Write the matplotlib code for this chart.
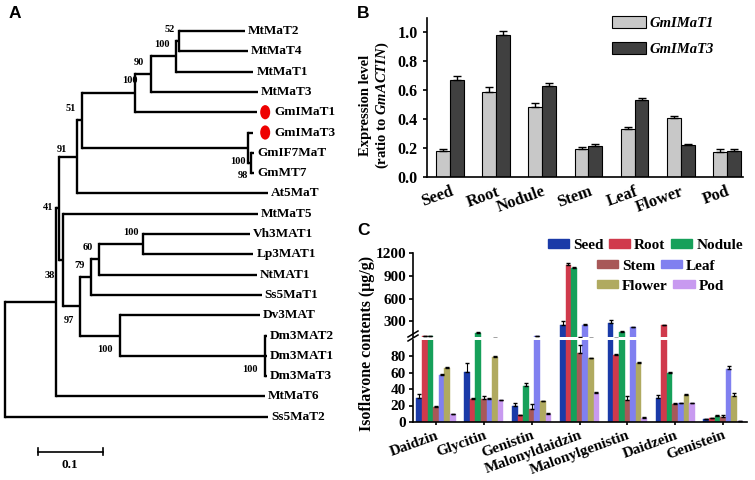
import numpy as np
import matplotlib
matplotlib.use('Agg')
import matplotlib.pyplot as plt
from matplotlib.patches import Patch, Ellipse
from matplotlib.lines import Line2D
from matplotlib.transforms import ScaledTranslation

plt.rcParams['font.family'] = ['Liberation Serif', 'DejaVu Serif']
plt.rcParams['font.weight'] = 'bold'
plt.rcParams['mathtext.fontset'] = 'custom'
plt.rcParams['mathtext.it'] = 'Liberation Serif:bold:italic'
plt.rcParams['mathtext.rm'] = 'Liberation Serif:bold'

# ---------------- data ----------------
# A: tree (branch depth from root, substitutions/site)
leaf_names = ['MtMaT2', 'MtMaT4', 'MtMaT1', 'MtMaT3', 'GmIMaT1', 'GmIMaT3', 'GmIF7MaT',
              'GmMT7', 'At5MaT', 'MtMaT5', 'Vh3MAT1', 'Lp3MAT1', 'NtMAT1', 'Ss5MaT1',
              'Dv3MAT', 'Dm3MAT2', 'Dm3MAT1', 'Dm3MaT3', 'MtMaT6', 'Ss5MaT2']
leaf_depth = [0.369, 0.374, 0.382, 0.389, 0.388, 0.382, 0.383, 0.383, 0.405, 0.389,
              0.377, 0.382, 0.388, 0.395, 0.392, 0.403, 0.403, 0.403, 0.400, 0.405]
marked = ['GmIMaT1', 'GmIMaT3']

node_names = ['N52', 'N100e', 'N90', 'N100d', 'N98', 'Ngm3', 'N51', 'N91', 'N100a',
              'N60', 'N79', 'N100c', 'N100b', 'N97', 'Nm5', 'N41', 'N38', 'root']
node_depth = [0.268, 0.263, 0.224, 0.200, 0.3785, 0.3746, 0.118, 0.111, 0.213,
              0.145, 0.132, 0.400, 0.177, 0.116, 0.089, 0.0831, 0.0777, 0.0]
node_children = [['MtMaT2', 'MtMaT4'], ['N52', 'MtMaT1'], ['N100e', 'MtMaT3'],
                 ['N90', 'GmIMaT1'], ['GmIF7MaT', 'GmMT7'], ['GmIMaT3', 'N98'],
                 ['N100d', 'Ngm3'], ['N51', 'At5MaT'], ['Vh3MAT1', 'Lp3MAT1'],
                 ['N100a', 'NtMAT1'], ['N60', 'Ss5MaT1'], ['Dm3MAT2', 'Dm3MAT1', 'Dm3MaT3'],
                 ['Dv3MAT', 'N100c'], ['N79', 'N100b'], ['MtMaT5', 'N97'],
                 ['N91', 'Nm5'], ['N41', 'MtMaT6'], ['N38', 'Ss5MaT2']]
node_support = ['52', '100', '90', '100', '98', '100', '51', '91', '100',
                '60', '79', '100', '100', '97', '', '41', '38', '']

# B: expression
tissues = ['Seed', 'Root', 'Nodule', 'Stem', 'Leaf', 'Flower', 'Pod']
t1 = [0.18, 0.59, 0.48, 0.19, 0.33, 0.41, 0.17]
t1_err = [0.01, 0.03, 0.03, 0.018, 0.014, 0.014, 0.023]
t3 = [0.67, 0.98, 0.63, 0.21, 0.53, 0.22, 0.18]
t3_err = [0.03, 0.027, 0.018, 0.014, 0.014, 0.01, 0.014]

# C: isoflavone contents
compounds = ['Daidzin', 'Glycitin', 'Genistin', 'Malonyldaidzin', 'Malonylgenistin',
             'Daidzein', 'Genistein']
seed = [29, 61, 20, 255, 283, 29, 3.2]
seed_err = [4.5, 10, 3, 45, 39, 3.5, 0.5]
root = [104, 28, 8, 1045, 81, 255, 4.5]
root_err = [1, 0.8, 0.5, 20, 1.5, 3, 0.5]
nodule = [106, 150, 44, 1005, 165, 60, 7.7]
nodule_err = [4, 6, 3, 5, 4, 0.8, 0.8]
stem = [18, 28, 16, 84, 27, 21.5, 6]
stem_err = [0.8, 3, 6, 9, 5, 1.5, 2]
leaf = [57, 28, 106, 258, 225, 22.6, 64.5]
leaf_err = [0.8, 0.5, 4, 3, 3, 0.5, 3]
flower = [66, 79, 25.5, 77, 72, 32.7, 32]
flower_err = [0.5, 0.5, 0.5, 0.8, 0.8, 1, 3.5]
pod = [9.3, 26.7, 10, 35.5, 5.3, 23, 0.8]
pod_err = [0.5, 0.5, 0.5, 0.5, 1, 0.5, 0.2]

W, H = 755, 480
fig = plt.figure(figsize=(W / 100, H / 100), dpi=100)


def fx(px):
    return px / W


def fy(py):
    return 1 - py / H


def shift_labels(labels, dx_px):
    for lab in labels:
        lab.set_transform(lab.get_transform() + ScaledTranslation(dx_px / 100, 0, fig.dpi_scale_trans))


# ---------------- A: tree ----------------
axA = fig.add_axes([0, 0, fx(380), 1])
axA.set_xlim(-5 / 650, 375 / 650)
axA.set_ylim((H - 31) / 20.3, -31 / 20.3)
axA.axis('off')

pos = {}
for i, (n, d) in enumerate(zip(leaf_names, leaf_depth)):
    pos[n] = (d, i)
for n, d, ch in zip(node_names, node_depth, node_children):
    ys = [pos[c][1] for c in ch]
    pos[n] = (d, (min(ys) + max(ys)) / 2)

lw = 1.7
for n, ch in zip(node_names, node_children):
    x0, y0 = pos[n]
    ys = [pos[c][1] for c in ch]
    axA.plot([x0, x0], [min(ys), max(ys)], color='black', lw=lw, solid_capstyle='projecting')
    for c in ch:
        axA.plot([x0, pos[c][0]], [pos[c][1], pos[c][1]], color='black', lw=lw,
                 solid_capstyle='butt')

px_per_unit = 650
dot_x = max(pos[m][0] for m in marked) + 8 / px_per_unit
for n in leaf_names:
    x, y = pos[n]
    if n in marked:
        axA.add_patch(Ellipse((dot_x, y), 10 / px_per_unit, 0.7, color='#ee0000', lw=0))
        tx = dot_x + 9 / px_per_unit
    else:
        tx = x + 3 / px_per_unit
    axA.text(tx, y, n, ha='left', va='center', fontsize=9.5, fontweight='bold')

label_offset = {'N52': (-10, 12), 'N100e': (-14, 12), 'N90': (-12, 12), 'N100d': (-5, 13),
                'N98': (-8, -13), 'Ngm3': (-11, -14), 'N51': (-11, 12), 'N91': (-15, 7),
                'N100a': (-13, 12), 'N60': (-12, 12), 'N79': (-11, 12), 'N100c': (-15, -14),
                'N100b': (-15, -14), 'N97': (-11, -14), 'N41': (-11, 1), 'N38': (-6, 27)}
for n, s in zip(node_names, node_support):
    if s:
        axA.annotate(s, pos[n], xytext=label_offset[n], textcoords='offset pixels',
                     ha='center', va='center', fontsize=7.5, fontweight='bold')

yb = (451.7 - 31) / 20.3
axA.plot([0.05, 0.15], [yb, yb], color='black', lw=1.2)
for xb in [0.05, 0.15]:
    axA.plot([xb, xb], [yb - 0.17, yb + 0.17], color='black', lw=1.2)
axA.text(0.10, yb + 0.65, '0.1', ha='center', va='center', fontsize=9.5, fontweight='bold')

for lab, (px, py) in zip('ABC', [(15, 14), (363, 14), (363, 231)]):
    fig.text(fx(px), fy(py), lab, ha='center', va='center', fontsize=12.5,
             fontweight='bold', family='Liberation Sans')

# ---------------- B: expression ----------------
axB = fig.add_axes([fx(426.7), fy(176.7), fx(743 - 426.7), (176.7 - 18) / H])
x = np.arange(len(tissues))
bw = 0.30
axB.bar(x - bw / 2, t1, bw, color='#c8c8c8', edgecolor='black', lw=0.8, label='GmIMaT1')
axB.bar(x + bw / 2, t3, bw, color='#404040', edgecolor='black', lw=0.8, label='GmIMaT3')
axB.errorbar(x - bw / 2, t1, yerr=[np.zeros(len(t1)), t1_err], fmt='none', ecolor='black',
             capsize=3, elinewidth=1, capthick=1)
axB.errorbar(x + bw / 2, t3, yerr=[np.zeros(len(t3)), t3_err], fmt='none', ecolor='black',
             capsize=3, elinewidth=1, capthick=1)
axB.set_xlim(-0.506, 6.35)
axB.set_ylim(0, 1.1)
axB.set_yticks(np.arange(0, 1.01, 0.2))
axB.set_yticklabels(['%.1f' % v for v in np.arange(0, 1.01, 0.2)])
axB.set_xticks(x)
axB.set_xticklabels(tissues, rotation=20, ha='right', rotation_mode='anchor', fontsize=12)
shift_labels(axB.get_xticklabels(), 6)
for s in ['top', 'right']:
    axB.spines[s].set_visible(False)
for s in ['left', 'bottom']:
    axB.spines[s].set_linewidth(1.2)
axB.tick_params(axis='y', labelsize=11.5, width=1.2, length=3)
axB.tick_params(axis='x', length=0, pad=5)
leg = axB.legend(loc='upper left', bbox_to_anchor=(fx(612), fy(16)),
                 bbox_transform=fig.transFigure, frameon=False, borderpad=0,
                 borderaxespad=0, handlelength=2.3, handleheight=0.85, labelspacing=0.85,
                 handletextpad=0.3, prop={'style': 'italic', 'weight': 'bold', 'size': 10.5})
fig.text(fx(375), fy(105), 'Expression level\n(ratio to $\\mathit{GmACTIN}$)', rotation=90,
         ha='center', va='center', fontsize=10.5, fontweight='bold', linespacing=1.15)

# ---------------- C: isoflavones ----------------
series = [seed, root, nodule, stem, leaf, flower, pod]
errs = [seed_err, root_err, nodule_err, stem_err, leaf_err, flower_err, pod_err]
colors = ['#1a3aa8', '#d03a4c', '#16a05a', '#a85858', '#8080f0', '#b0aa60', '#c89af0']

axCb = fig.add_axes([fx(413), fy(422), fx(747 - 413), (422 - 339.5) / H])
axCt = fig.add_axes([fx(413), fy(336.5), fx(747 - 413), (336.5 - 253) / H])
xc = np.arange(len(compounds))
cw = 0.117
handles = []
for k, (vals, e, col, name) in enumerate(zip(series, errs, colors, tissues)):
    off = (k - 3) * cw
    for ax in (axCb, axCt):
        ax.bar(xc + off, vals, cw, color=col, edgecolor=col, lw=0.3)
        ax.errorbar(xc + off, vals, yerr=[np.zeros(len(vals)), e], fmt='none',
                    ecolor='black', capsize=1.6, elinewidth=0.8, capthick=1)
    handles.append(Patch(facecolor=col, edgecolor=col, label=name))

for ax in (axCb, axCt):
    ax.set_xlim(-0.48, 6.5)
    for s in ['top', 'right']:
        ax.spines[s].set_visible(False)
    ax.spines['left'].set_linewidth(1.2)
    ax.tick_params(axis='both', labelsize=11, width=1.2, length=3, pad=2)
axCb.set_ylim(0, 100)
axCb.set_yticks([0, 20, 40, 60, 80])
axCb.spines['bottom'].set_linewidth(1.2)
axCb.set_xticks(xc)
axCb.set_xticklabels(compounds, rotation=20, ha='right', rotation_mode='anchor', fontsize=11)
shift_labels(axCb.get_xticklabels(), 4)
axCb.tick_params(axis='x', length=2, pad=3)
axCt.set_ylim(100, 1200)
axCt.set_yticks([300, 600, 900, 1200])
axCt.spines['bottom'].set_visible(False)
axCt.set_xticks([])

# break marks on the y axis
for dy in (0, 4):
    fig.add_artist(Line2D([fx(408), fx(418)], [fy(341 - dy), fy(335 - dy)], color='black',
                          lw=1.1, transform=fig.transFigure))

cprop = {'weight': 'bold', 'size': 11}
legkw = dict(frameon=False, borderpad=0, borderaxespad=0, handlelength=1.4, handleheight=0.5,
             handletextpad=0.25, columnspacing=0.35, prop=cprop, loc='center left')
fig.legend(handles=handles[0:3], ncol=3, bbox_to_anchor=(fx(548), fy(245.7)), **legkw)
fig.legend(handles=handles[3:5], ncol=2, bbox_to_anchor=(fx(597), fy(266)), **legkw)
fig.legend(handles=handles[5:7], ncol=2, bbox_to_anchor=(fx(597), fy(286)), **legkw)

fig.text(fx(367), fy(343), 'Isoflavone contents (μg/g)', rotation=90, ha='center',
         va='center', fontsize=11.5, fontweight='bold')

fig.savefig('out.png', dpi=100)
